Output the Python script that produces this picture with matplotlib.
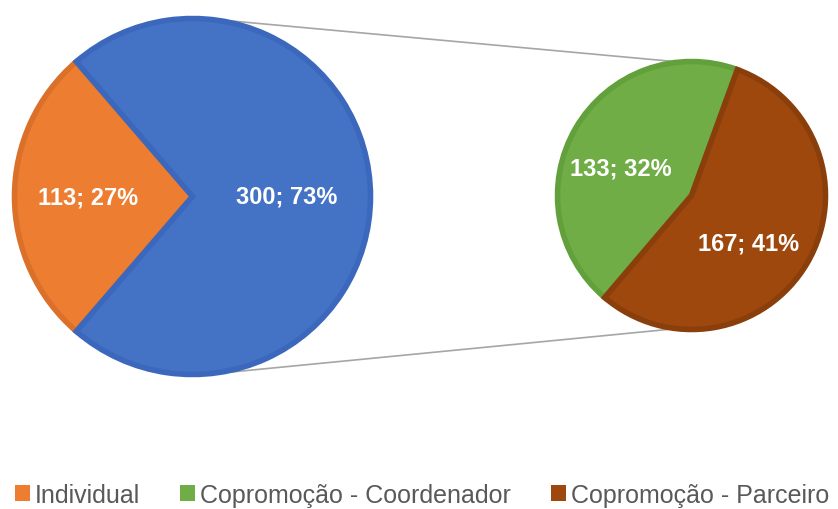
import numpy as np
import matplotlib.pyplot as plt
from matplotlib.patches import Patch

plt.rcParams['font.family'] = ['Liberation Sans', 'DejaVu Sans']

# main pie: Individual vs Copromocao (total)
main_values = [113, 300]
main_pcts = [27, 73]
main_colors = ['#ED7D31', '#4472C4']
main_edges = ['#DA702A', '#3B68BC']

# secondary pie: split of Copromocao
sub_values = [133, 167]
sub_pcts = [32, 41]
sub_colors = ['#70AD47', '#9E480E']
sub_edges = ['#62A03B', '#8A3E0C']

legend_labels = ['Individual', 'Copromoção - Coordenador', 'Copromoção - Parceiro']
legend_colors = ['#ED7D31', '#70AD47', '#9E480E']

W, H = 838, 510
fig = plt.figure(figsize=(W / 100, H / 100), dpi=100)
ax = fig.add_axes([0, 0, 1, 1])

big_c = (192.5, H - 197.5)
big_r = 178
small_c = (691.5, H - 196.5)
small_r = 134


def make_fmt(values, pcts):
    it = iter(zip(values, pcts))
    def fmt(_):
        v, p = next(it)
        return f'{v}; {p}%'
    return fmt


txt = dict(color='white', fontweight='bold', fontsize=17)

w1, _, t1 = ax.pie(main_values, colors=main_colors, center=big_c, radius=big_r,
                   startangle=180 - 180 * main_values[0] / sum(main_values),
                   autopct=make_fmt(main_values, main_pcts), pctdistance=0.55,
                   textprops=txt, wedgeprops=dict(linewidth=4))
for w, ec in zip(w1, main_edges):
    w.set_edgecolor(ec)

w2, _, t2 = ax.pie(sub_values, colors=sub_colors, center=small_c, radius=small_r,
                   startangle=70, autopct=make_fmt(sub_values, sub_pcts),
                   pctdistance=0.55, textprops=txt, wedgeprops=dict(linewidth=4))
for w, ec in zip(w2, sub_edges):
    w.set_edgecolor(ec)

# nudge labels a little, as excel places them
t1[0].set_x(t1[0].get_position()[0] - 7)
t1[1].set_x(t1[1].get_position()[0] - 4)
for t in t2:
    x, y = t.get_position()
    t.set_position((x - 7, y - 10))

# connector lines between the pies
R1, R2 = big_r + 2, small_r + 2
for a1, a2 in [(77, 99), (-77, -100)]:
    x0 = big_c[0] + R1 * np.cos(np.radians(a1))
    y0 = big_c[1] + R1 * np.sin(np.radians(a1))
    x1 = small_c[0] + R2 * np.cos(np.radians(a2))
    y1 = small_c[1] + R2 * np.sin(np.radians(a2))
    ax.plot([x0, x1], [y0, y1], color='#A6A6A6', lw=1.2, zorder=0)

ax.set_xlim(0, W)
ax.set_ylim(0, H)
ax.set_aspect('equal')
ax.axis('off')

handles = [Patch(facecolor=c, edgecolor='none') for c in legend_colors]
fig.legend(handles, legend_labels, loc='center left', bbox_to_anchor=(15 / W, 14 / H),
           ncol=3, frameon=False, fontsize=18, handlelength=0.6, handleheight=0.6,
           handletextpad=0.2, columnspacing=1.6, borderpad=0, borderaxespad=0,
           labelcolor='#595959')

fig.savefig('out.png', dpi=100)
